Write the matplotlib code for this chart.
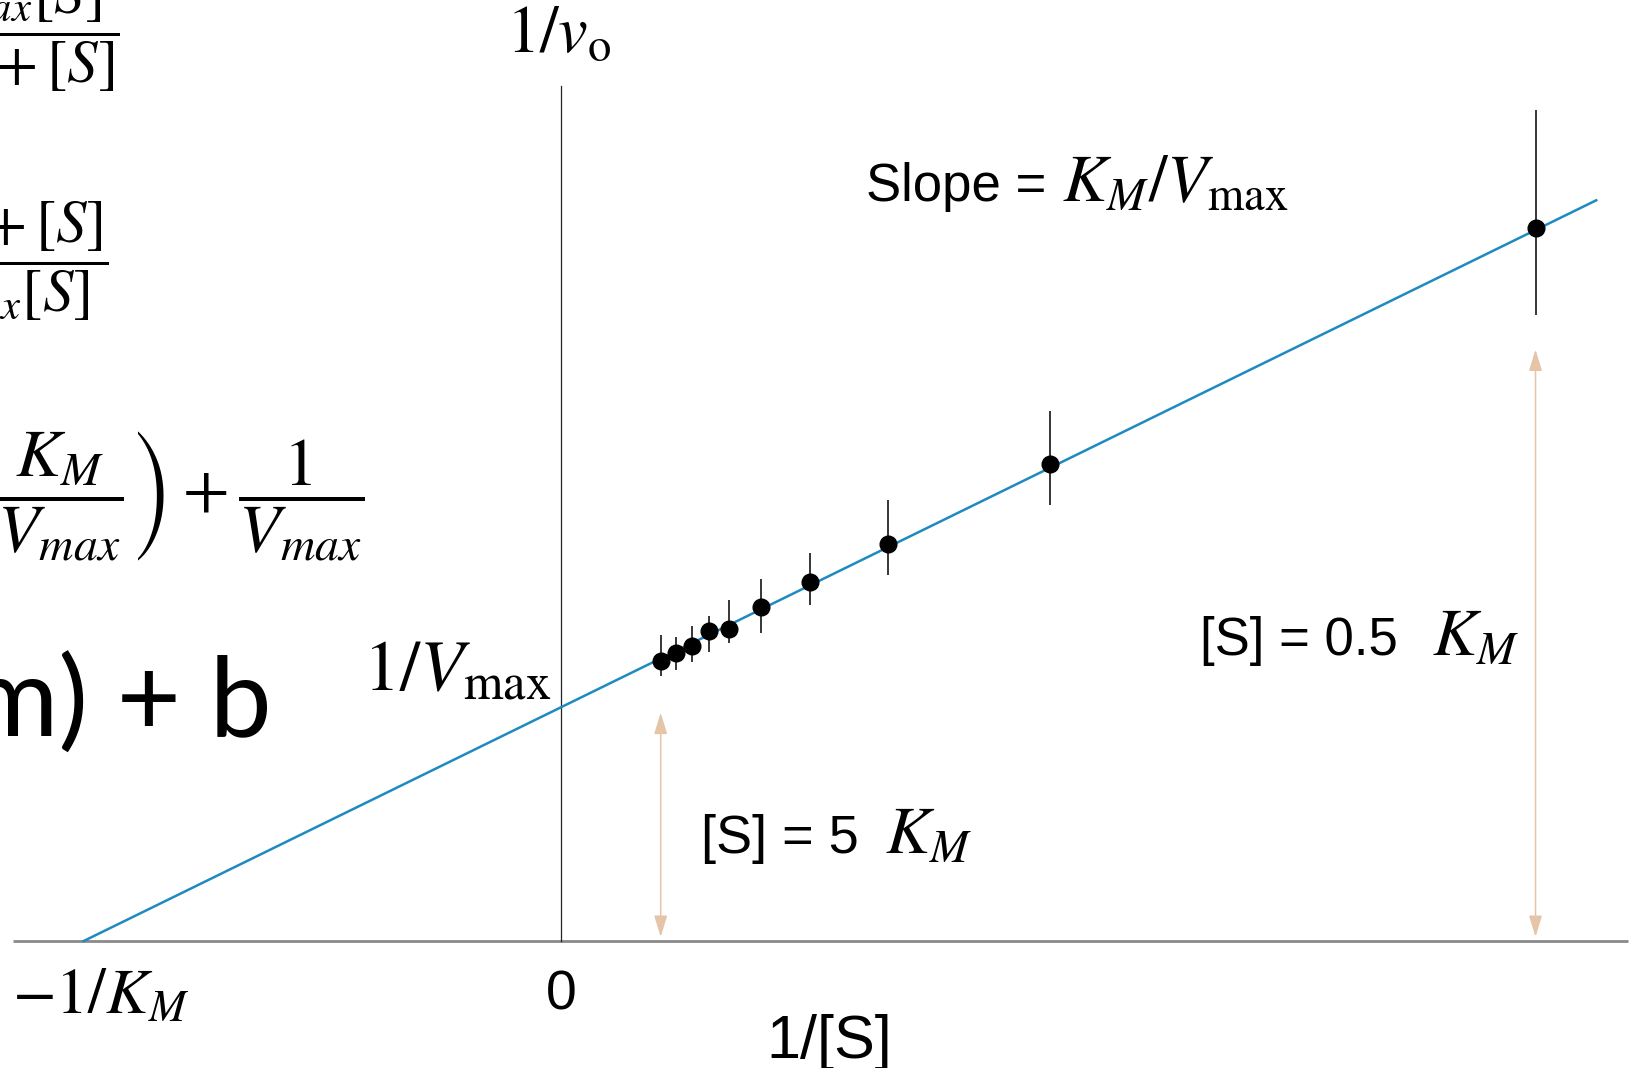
import numpy as np
import matplotlib.pyplot as plt

plt.rcParams['mathtext.fontset'] = 'stix'
plt.rcParams['font.family'] = ['Liberation Sans', 'DejaVu Sans']

# Lineweaver-Burk data, K_M = 1, V_max = 1 units
km = 1.0
vmax = 1.0
inv_s = [0.208, 0.240, 0.274, 0.310, 0.352, 0.417, 0.520, 0.683, 1.022, 2.039]
inv_v = [1.198, 1.232, 1.262, 1.325, 1.332, 1.428, 1.534, 1.699, 2.037, 3.049]
err_lo = [0.065, 0.073, 0.068, 0.088, 0.057, 0.112, 0.098, 0.134, 0.173, 0.374]
err_hi = [0.110, 0.069, 0.086, 0.064, 0.126, 0.119, 0.124, 0.187, 0.228, 0.504]
line_x = np.array([-1.0, 2.166])
arrow_x = [inv_s[0], inv_s[-1]]
arrow_top = [0.976, 2.528]

W, H = 1636, 1068
fig = plt.figure(figsize=(W / 100, H / 100), dpi=100)
ax = fig.add_axes([0, 0, 1, 1])
ax.set_xlim(-1.1748, 2.2493)
ax.set_ylim(-0.5423, 4.022)
ax.axis('off')

# axes
ax.plot([-1.1486, 2.2325], [0, 0], color='#8a8a8a', lw=2.0, solid_capstyle='butt')
ax.plot([0, 0], [0, 3.654], color='#222222', lw=0.9)

# fitted line
ax.plot(line_x, (km / vmax) * line_x + 1 / vmax, color='#1f8ac0', lw=1.8)

# arrows
for x, top in zip(arrow_x, arrow_top):
    ax.annotate('', xy=(x, 0.018), xytext=(x, top),
                arrowprops=dict(arrowstyle='<|-|>,head_length=1.3,head_width=0.4',
                                color='#e5c4a8', lw=1.1, shrinkA=0, shrinkB=0))

ax.errorbar(inv_s, inv_v, yerr=[err_lo, err_hi], fmt='o', color='black',
            ms=12, elinewidth=1.1, capsize=0, zorder=5)


def txt(x, y, s, **kw):
    fig.text(x / W, 1 - y / H, s, va='baseline', **kw)


txt(506, 52, r'$1/v_{\rm o}$', fontsize=48, ha='left')
txt(866, 201, 'Slope =', fontsize=38, ha='left')
txt(1062, 201, r'$K_M/V_{\rm max}$', fontsize=48, ha='left')
txt(701, 853, '[S] = 5', fontsize=39, ha='left')
txt(885, 853, r'$K_M$', fontsize=48, ha='left')
txt(1200, 655, '[S] = 0.5', fontsize=38, ha='left')
txt(1432, 655, r'$K_M$', fontsize=48, ha='left')
txt(363, 690, r'$1/V_{\rm max}$', fontsize=52, ha='left')
txt(12, 1014, r'$-1/K_M$', fontsize=46, ha='left')
txt(561, 1010, '0', fontsize=40, ha='center')
txt(829, 1058, '1/[S]', fontsize=44, ha='center')

# equations cut at the left edge
txt(120, 46, r'$v_o = \dfrac{V_{max}[S]}{K_M + [S]}$', fontsize=44, ha='right')
txt(108, 275, r'$\dfrac{1}{v_o} = \dfrac{K_M + [S]}{V_{max}[S]}$', fontsize=44, ha='right')
txt(365, 511, r'$\dfrac{1}{v_o} = \left(\dfrac{1}{[S]}\right)\left(\dfrac{K_M}{V_{max}}\right) + \dfrac{1}{V_{max}}$',
    fontsize=49, ha='right')
txt(272, 736, 'y = (x)(m) + b', fontsize=80, ha='right', family=['Lato', 'DejaVu Sans'])

fig.savefig('out.png', dpi=100)
